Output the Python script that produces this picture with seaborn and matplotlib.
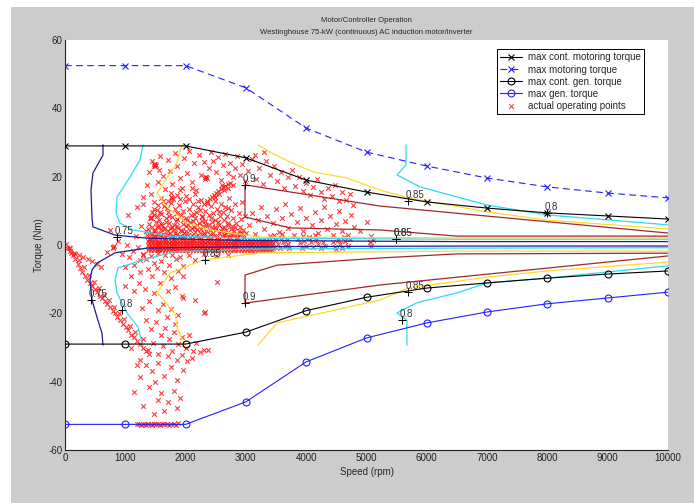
import matplotlib
matplotlib.use("Agg")
import matplotlib.pyplot as plt
import seaborn as sns
from matplotlib.patches import Rectangle

sns.set_style("white")
plt.rcParams['font.family'] = ['Liberation Sans', 'DejaVu Sans']
plt.rcParams['axes.unicode_minus'] = False

# ---------------- data ----------------
speed = [0, 1000, 2000, 3000, 4000, 5000, 6000, 7000, 8000, 9000, 10000]
cont_motor = [29, 29, 29, 25.5, 19.0, 15.5, 12.6, 10.8, 9.4, 8.5, 7.6]
peak_motor = [52.5, 52.5, 52.5, 46.0, 34.2, 27.2, 23.1, 19.6, 17.0, 15.2, 13.8]
cont_gen = [-29, -29, -29, -25.5, -19.2, -15.3, -12.6, -11.1, -9.7, -8.5, -7.6]
peak_gen = [-52.5, -52.5, -52.5, -45.9, -34.2, -27.2, -22.8, -19.6, -17.2, -15.5, -13.8]

legend_labels = ["max cont. motoring torque", "max motoring torque",
                 "max cont. gen. torque", "max gen. torque", "actual operating points"]

# efficiency contour lines (speed, torque)
c75_a_s = [630, 630, 464, 431, 448, 464, 829, 1360, 3000, 6500, 10000]
c75_a_t = [29.3, 26.3, 21.1, 16.1, 7.9, 5.3, 2.9, 2.0, 1.3, 1.0, 1.0]
c75_b_s = [630, 613, 530, 448, 415, 448, 530, 829, 1360, 3000, 6500, 10000]
c75_b_t = [-29.3, -25.8, -21.1, -16.1, -10.2, -7.3, -5.3, -2.3, -0.9, -0.5, -0.3, -0.3]
c80_a_s = [1294, 1244, 1078, 862, 846, 912, 1128, 1741, 3000, 6500, 10000]
c80_a_t = [29.3, 24.9, 19.9, 14.0, 9.4, 6.4, 4.4, 2.6, 2.0, 1.7, 1.7]
c80_b_s = [1294, 1277, 1211, 1028, 862, 829, 879, 1294, 1790, 3000, 6500, 10000]
c80_b_t = [-29.3, -28.7, -24.0, -19.9, -14.0, -10.2, -6.7, -4.4, -2.0, -1.2, -0.9, -0.8]
c80_c_s = [5655, 5655, 5506, 5887, 6998, 7993, 10000]
c80_c_t = [29.3, 23.4, 20.5, 17.0, 11.7, 8.8, 5.9]
c80_d_s = [5670, 5670, 5506, 5837, 6501, 6998, 7993, 10000]
c80_d_t = [-29.3, -22.0, -19.9, -16.9, -14.0, -11.1, -9.7, -6.1]
c85_a_s = [1957, 1907, 1857, 1526, 1692, 2023, 2405, 3234, 6500, 10000]
c85_a_t = [29.3, 27.8, 24.0, 15.2, 11.1, 6.4, 4.4, 2.3, 2.1, 2.1]
c85_b_s = [1990, 1857, 1824, 1526, 1741, 2289, 3234, 6500, 10000]
c85_b_t = [-29.3, -24.0, -19.9, -14.0, -8.2, -4.4, -2.3, -1.8, -1.8]
c85_c_s = [3200, 3400, 3731, 4113, 4677, 5224, 5688, 6998, 7993, 10000]
c85_c_t = [29.3, 27.2, 24.3, 21.4, 19.6, 16.1, 13.8, 9.7, 7.3, 4.7]
c85_d_s = [3200, 3516, 5224, 5688, 6998, 7993, 10000]
c85_d_t = [-29.3, -22.8, -16.1, -12.6, -9.4, -7.6, -5.0]
c90_a_s = [10000, 5224, 2985, 2985, 3731, 5224, 6501, 10000]
c90_a_t = [3.5, 11.4, 17.6, 8.2, 5.0, 4.4, 2.6, 2.6]
c90_b_s = [10000, 5224, 2985, 2985, 3516, 5224, 6501, 10000]
c90_b_t = [-3.2, -11.7, -17.0, -8.8, -5.9, -3.8, -2.6, -2.4]

label_speed = [862, 431, 945, 2322, 2985, 2985, 5688, 5489, 5489, 7993, 5688, 5589]
label_torque = [2.3, -16.1, -19.0, -4.4, 17.6, -17.0, 12.9, 1.8, 1.8, 9.4, -13.8, -22.0]
label_text = ["0.75", "0.75", "0.8", "0.85", "0.9", "0.9", "0.85", "0.85", "0.8", "0.8", "0.85", "0.8"]

# operating points
streak_pts = [(20, 0.3), (60, -1.0), (100, -2.2), (130, -3.0), (170, -4.2), (210, -5.5), (250, -6.8),
              (290, -8.0), (330, -9.0), (370, -10.3), (410, -11.2), (450, -12.0), (490, -13.0),
              (530, -13.8), (580, -14.8), (620, -15.6), (660, -16.5), (700, -17.2), (740, -18.0),
              (790, -19.2), (830, -20.0), (870, -21.0), (920, -22.0), (960, -23.0), (1010, -24.0),
              (1050, -25.0), (1100, -26.2), (1140, -27.0), (1190, -28.0), (1240, -29.0), (1290, -30.0),
              (1340, -31.0), (1390, -32.0), (90, -0.8), (160, -2.5), (240, -4.5), (310, -6.5),
              (400, -8.8), (480, -10.8), (560, -12.5), (650, -14.5), (730, -16.0), (820, -18.2),
              (900, -20.0), (980, -21.8), (1070, -23.8), (1160, -25.5), (30, -0.8), (80, -1.8),
              (150, -2.2), (230, -2.8), (300, -3.5), (380, -4.0), (450, -4.6), (530, -5.5), (600, -6.3)]
left_pts = [(740, 4.4), (800, -0.6), (790, -0.9), (810, -0.3), (1045, 8.8), (1030, 0.0), (1210, -0.6),
            (1120, -1.8), (950, -2.5), (1180, 2.6), (880, 1.2), (1060, -3.5), (1250, -4.5),
            (1150, -5.8), (990, -6.5), (1300, -3.0), (700, -2.0), (1340, 4.0), (1260, 5.5),
            (1200, 11.0), (1300, 14.0), (1100, -9.0), (1230, -11.0), (1000, -12.0), (1150, -13.5)]
cloud_pts = [(1360, 2.8), (1380, 4.6), (1400, 6.2), (1420, 3.5), (1430, 7.9), (1410, 7.9), (1420, 8.2),
             (1445, 5.2), (1460, 2.4), (1475, 8.8), (1490, 4.1), (1505, 6.6), (1520, 3.0), (1530, 10.2),
             (1545, 5.6), (1560, 7.4), (1575, 2.6), (1590, 4.8), (1600, 9.1), (1615, 6.0), (1630, 3.3),
             (1645, 11.3), (1660, 5.0), (1670, 7.8), (1685, 2.9), (1700, 4.2), (1710, 9.6), (1725, 6.4),
             (1740, 3.6), (1755, 12.4), (1770, 5.4), (1775, 13.8), (1790, 13.6), (1765, 14.0),
             (1780, 8.2), (1795, 2.5), (1810, 4.5), (1820, 10.6), (1835, 6.9), (1850, 3.1), (1865, 7.5),
             (1880, 5.0), (1890, 11.8), (1905, 2.7), (1920, 8.7), (1935, 4.0), (1950, 6.2), (1960, 9.9),
             (1975, 3.4), (1990, 12.9), (2005, 5.6), (2020, 7.2), (2035, 2.8), (2050, 10.4), (2065, 4.4),
             (2080, 6.6), (2090, 8.9), (2105, 3.0), (2120, 12.0), (2135, 5.2), (2150, 7.8), (2165, 2.5),
             (2180, 9.6), (2195, 4.8), (2210, 11.1), (2225, 6.3), (2240, 3.6), (2255, 13.3), (2270, 8.2),
             (2285, 5.5), (2300, 2.9), (2315, 10.0), (2330, 7.0), (2345, 4.1), (2360, 12.3), (2375, 6.0),
             (2390, 8.8), (2405, 3.2), (2420, 11.4), (2435, 5.3), (2450, 9.4), (2465, 2.7), (2480, 7.4),
             (2495, 13.0), (2510, 4.6), (2525, 10.5), (2540, 6.8), (2555, 3.5), (2570, 8.6), (2585, 12.1),
             (2600, 5.0), (2615, 9.8), (2630, 3.0), (2645, 7.2), (2660, 11.0), (2675, 4.3), (2690, 8.4),
             (2705, 6.0), (2720, 13.8), (2735, 3.3), (2750, 10.1), (2765, 5.6), (2780, 7.9), (2800, 4.0),
             (2820, 11.9), (2840, 6.5), (2860, 3.1), (2880, 9.3), (2900, 5.2), (2920, 7.6), (2940, 12.7),
             (2960, 4.4), (2980, 8.5), (3000, 3.6), (1390, 1.8), (1500, 1.9), (1650, 1.7), (1800, 1.8),
             (1950, 2.0), (2100, 1.8), (2250, 1.9), (2400, 1.7), (2550, 1.9), (2700, 2.0), (2850, 1.8),
             (1550, 11.6), (1700, 13.0), (2000, 14.2), (2150, 14.9), (1850, 14.6), (1620, 12.8),
             (1470, 10.6), (1520, 8.4), (1690, 10.9), (1900, 13.5), (2200, 12.9), (2060, 13.6)]
dense_pts = [(1410, 1.9), (1440, 3.1), (1470, 4.0), (1500, 2.6), (1530, 5.4), (1560, 3.4), (1590, 6.2),
             (1620, 2.2), (1650, 4.6), (1680, 6.8), (1710, 3.0), (1740, 5.0), (1770, 2.4), (1800, 6.0),
             (1830, 3.6), (1860, 5.6), (1890, 2.2), (1920, 4.4), (1950, 7.2), (1980, 2.6), (2010, 4.2),
             (2040, 6.0), (2070, 2.3), (2100, 5.0), (2130, 7.0), (2160, 3.8), (2190, 5.8), (2220, 2.4),
             (2250, 4.6), (2280, 7.0), (2310, 3.4), (2340, 5.8), (2370, 2.2), (2400, 4.4), (2430, 6.6),
             (2460, 3.6), (2490, 5.4), (2520, 2.4), (2550, 6.0), (2580, 4.0), (2610, 2.6), (2640, 5.2),
             (2670, 3.2), (2700, 6.4), (2730, 2.4), (2760, 4.6), (2790, 3.0), (2820, 5.2), (2850, 2.4),
             (2880, 4.2), (2910, 2.8), (2940, 3.6), (2970, 2.2), (1450, 9.6), (1580, 9.8), (1720, 8.6),
             (1860, 9.4), (2000, 8.0), (2140, 9.2), (2280, 8.6), (2420, 8.0), (2560, 9.8), (2700, 10.8),
             (1600, 13.8), (1900, 16.0), (2100, 16.8), (1480, 12.6), (2240, 10.2)]
upper_pts = [(1400, 21.5), (1450, 24.5), (1480, 23.2), (1490, 23.6), (1500, 23.0), (1510, 23.4),
             (1470, 23.8), (1540, 18.5), (1580, 26.0), (1620, 20.2), (1660, 16.5), (1700, 24.8),
             (1740, 21.8), (1780, 18.0), (1820, 26.8), (1860, 23.0), (1900, 19.6), (1940, 16.8),
             (1980, 25.5), (2020, 21.0), (2060, 27.5), (2100, 18.4), (2140, 23.9), (2180, 16.2),
             (2220, 26.3), (2260, 20.6), (2300, 24.2), (2320, 19.4), (2340, 19.8), (2350, 19.5),
             (2330, 20.0), (2380, 22.5), (2420, 27.2), (2460, 24.6), (2500, 21.4), (2540, 25.8),
             (2580, 19.0), (2620, 23.4), (2660, 26.6), (2700, 21.0), (2740, 24.0), (2780, 19.8),
             (2820, 22.6), (2860, 26.0), (2900, 20.4), (2940, 23.6), (2980, 18.6), (3040, 21.8),
             (3100, 25.2), (3160, 19.4), (3220, 22.4), (3280, 17.8), (3340, 24.6), (3400, 20.6),
             (3460, 23.0), (3520, 18.8), (3580, 21.4), (3640, 16.6), (3700, 19.8), (3760, 22.0),
             (3820, 17.4), (3880, 20.0), (3940, 15.8), (4000, 18.2), (4060, 14.6), (4120, 17.0),
             (4180, 19.2), (4240, 15.4), (4300, 13.6), (4360, 16.6), (4420, 14.2), (4480, 17.6),
             (4540, 12.8), (4600, 15.6), (4660, 13.2), (4720, 14.8), (4780, 11.6), (3300, 27.2),
             (3150, 26.4), (1560, 22.0), (1760, 15.2), (1360, 17.5), (1300, 12.0), (1420, 14.8),
             (2300, 12.0), (2350, 12.8), (2400, 13.5), (2430, 14.0), (2470, 14.6), (2500, 15.2),
             (2540, 15.8), (2580, 16.3), (2620, 16.9), (2660, 17.4), (2700, 17.8), (2740, 18.2),
             (2780, 17.6), (2640, 16.0), (2560, 15.0), (2480, 14.0), (2600, 17.5), (2700, 16.6)]
right_pts = [(3050, 5.8), (3100, 9.4), (3150, 3.2), (3200, 7.2), (3250, 11.2), (3300, 4.6), (3350, 8.4),
             (3400, 2.6), (3450, 6.4), (3500, 10.4), (3550, 3.8), (3600, 7.8), (3650, 12.0), (3700, 5.0),
             (3750, 9.2), (3800, 3.0), (3850, 6.8), (3900, 10.8), (3950, 4.2), (4000, 8.0), (4050, 2.4),
             (4100, 6.0), (4150, 9.8), (4200, 3.6), (4250, 7.4), (4300, 11.0), (4350, 4.8), (4400, 8.6),
             (4450, 2.8), (4500, 6.2), (4550, 10.0), (4600, 4.0), (4650, 7.0), (4700, 3.0), (4750, 8.8),
             (4800, 5.4), (4900, 4.0), (5000, 6.6),
             (3470, 2.8), (3500, 1.5), (3530, 0.3), (3560, -0.9), (3590, 2.0), (3620, 0.9), (3650, -0.3),
             (3680, 1.6), (3710, -0.8), (3490, -0.5), (3600, 3.2), (3700, 0.4), (3870, 1.8), (3900, 0.5),
             (3930, -0.8), (3960, 1.2), (4000, -0.2), (4040, 2.1), (4080, 0.8), (4120, -0.6), (4160, 1.5),
             (4200, 0.2), (4240, -0.9), (4280, 1.0), (4320, -0.3), (3950, 2.6), (4150, 2.8), (4440, 0.9),
             (4480, -0.5), (4520, 1.6), (4560, 0.2), (4600, -0.9), (4650, 1.1), (4700, -0.2), (4730, 1.7),
             (4500, -1.3), (4620, 2.4), (5060, 0.8), (5080, -0.4), (5100, 1.5), (5070, 2.6)]
lower_pts = [(1300, -2.6), (1350, -4.0), (1420, -3.2), (1480, -5.2), (1540, -2.4), (1600, -4.6),
             (1660, -3.0), (1720, -5.8), (1780, -2.8), (1840, -4.2), (1900, -3.4), (1960, -6.0),
             (2050, -3.0), (2150, -4.4), (2300, -2.6), (2500, -3.2), (2700, -2.8), (1380, -7.0),
             (1450, -9.2), (1520, -6.6), (1580, -11.0), (1640, -8.0), (1700, -13.6), (1760, -9.8),
             (1820, -12.2), (1880, -7.6), (1940, -15.0), (1960, -9.0), (1960, -15.5), (2150, -16.0),
             (2520, -10.8), (2300, -20.0), (2330, -19.5), (1250, -8.0), (1320, -13.0), (1400, -16.5),
             (1480, -14.0), (1550, -19.0), (1620, -17.4), (1690, -21.0), (1750, -18.6), (1820, -23.2),
             (1880, -20.4), (1280, -18.5), (1350, -22.0), (1430, -24.5), (1510, -22.6), (1590, -26.2),
             (1660, -24.2), (1730, -27.6), (1800, -25.4), (1870, -29.0), (1940, -27.0), (2000, -30.2),
             (2060, -26.4), (2120, -31.0), (2180, -28.6), (2240, -31.4), (2300, -30.6), (2370, -30.8),
             (1300, -27.4), (1380, -30.6), (1460, -28.8), (1540, -31.8), (1620, -29.6), (1700, -32.6),
             (1780, -31.0), (1860, -33.6), (1940, -32.2), (2020, -34.0), (2100, -33.0), (1350, -35.0),
             (1450, -37.0), (1550, -34.4), (1650, -38.2), (1750, -35.6), (1850, -39.6), (1950, -36.6),
             (1250, -38.5), (1400, -41.5), (1500, -40.0), (1600, -43.2), (1700, -46.0), (1800, -42.6),
             (1550, -45.4), (1300, -47.0), (1480, -49.6), (1650, -48.6), (1900, -44.8), (1850, -47.8),
             (1150, -43.0), (1200, -35.0), (1100, -30.0), (1250, -33.6)]
bottom_speed = [1200, 1230, 1260, 1290, 1320, 1350, 1380, 1420, 1450, 1480, 1510, 1540, 1580,
                1610, 1650, 1690, 1720, 1760, 1800, 1840, 1880]
bottom_torque = [-52.5, -52.4, -52.6, -52.5, -52.3, -52.6, -52.5, -52.4, -52.6, -52.5, -52.3,
                 -52.5, -52.6, -52.4, -52.5, -52.3, -52.6, -52.5, -52.4, -52.6, -52.2]
band_speed_a = [1380, 1425, 1470, 1520, 1565, 1610, 1660, 1705, 1750, 1800, 1845, 1890, 1940, 1985,
                2030, 2080, 2125, 2170, 2220, 2265, 2310, 2360, 2405, 2450, 2500, 2545, 2590, 2640,
                2685, 2730, 2780, 2825, 2870, 2920, 2965, 3010, 3060, 3105, 3150, 3200, 3245, 3290,
                3340, 3385, 3430]
band_speed_b = [1395, 1440, 1490, 1535, 1580, 1630, 1675, 1720, 1770, 1815, 1860, 1910, 1955, 2000,
                2050, 2095, 2140, 2190, 2235, 2280, 2330, 2375, 2420, 2470, 2515, 2560, 2610, 2655,
                2700, 2750, 2795, 2840, 2890, 2935, 2980, 3030, 3075, 3120, 3170, 3215, 3260, 3310,
                3355, 3400, 3445]
band_row_torque = [1.3, 0.6, -0.1, -0.8, -1.4]

# ---------------- figure ----------------
W, H = 694, 503
fig = plt.figure(figsize=(W / 100, H / 100), dpi=100, facecolor="white")
fig.patches.append(Rectangle((11 / W, 0), 1, 1 - 7 / H, transform=fig.transFigure,
                             facecolor="#cccccc", edgecolor="none", zorder=-10))
ax = fig.add_axes([65 / W, 53 / H, 603 / W, 410 / H])
ax.set_facecolor("white")

# operating points
all_pts = streak_pts + left_pts + cloud_pts + dense_pts + upper_pts + right_pts + lower_pts
pt_s = [p[0] for p in all_pts] + bottom_speed
pt_t = [p[1] for p in all_pts] + bottom_torque
for i, tq in enumerate(band_row_torque):
    row = band_speed_a if i % 2 == 0 else band_speed_b
    pt_s += row
    pt_t += [tq] * len(row)

col_blue = "#2020ff"
sns.lineplot(x=speed, y=cont_motor, color="black", lw=0.8, marker="x", markersize=4,
             mec="black", mew=0.8, label=legend_labels[0], ax=ax, zorder=4)
sns.lineplot(x=speed, y=peak_motor, color=col_blue, lw=0.8, marker="x", markersize=4,
             mec=col_blue, mew=0.8, dashes=(6, 4), label=legend_labels[1], ax=ax, zorder=4)
sns.lineplot(x=speed, y=cont_gen, color="black", lw=0.8, marker="o", markersize=5,
             mec="black", mfc="none", mew=0.8, label=legend_labels[2], ax=ax, zorder=4)
sns.lineplot(x=speed, y=peak_gen, color=col_blue, lw=0.8, marker="o", markersize=5,
             mec=col_blue, mfc="none", mew=0.8, label=legend_labels[3], ax=ax, zorder=4)
sns.scatterplot(x=pt_s, y=pt_t, marker="x", color="#ff1a1a", s=11, linewidth=0.8, alpha=0.85,
                label=legend_labels[4], ax=ax, zorder=2)

contours = [
    (c75_a_s, c75_a_t, "#1c1c96"), (c75_b_s, c75_b_t, "#1c1c96"),
    (c80_a_s, c80_a_t, "#30d8f0"), (c80_b_s, c80_b_t, "#30d8f0"),
    (c80_c_s, c80_c_t, "#30d8f0"), (c80_d_s, c80_d_t, "#30d8f0"),
    (c85_a_s, c85_a_t, "#ffd830"), (c85_b_s, c85_b_t, "#ffd830"),
    (c85_c_s, c85_c_t, "#ffd830"), (c85_d_s, c85_d_t, "#ffd830"),
    (c90_a_s, c90_a_t, "#a02828"), (c90_b_s, c90_b_t, "#a02828"),
]
for cs, ct, cc in contours:
    sns.lineplot(x=cs, y=ct, sort=False, estimator=None, color=cc, lw=0.9, ax=ax,
                 legend=False, zorder=3)

for xs, ys, tx in zip(label_speed, label_torque, label_text):
    ax.plot([xs], [ys], marker="+", color="black", markersize=6, mew=0.7, zorder=5)
    ax.annotate(tx, (xs, ys), xytext=(-1.5, 0.5), textcoords="offset points",
                fontsize=7, color="#333333", ha="left", va="bottom", zorder=5)

ax.set_xlim(0, 10000)
ax.set_ylim(-60, 60)
ax.set_xticks(range(0, 10001, 1000))
ax.set_yticks(range(-60, 61, 20))
ax.tick_params(direction="in", length=4, width=0.6, labelsize=7, colors="#222222", pad=2)
for side in ["top", "right"]:
    ax.spines[side].set_visible(False)
for side in ["left", "bottom"]:
    ax.spines[side].set_color("#222222")
    ax.spines[side].set_linewidth(0.8)
ax.set_xlabel("Speed (rpm)", fontsize=7, labelpad=3)
ax.set_ylabel("Torque (Nm)", fontsize=7, labelpad=3)

fig.text(366 / W, 1 - 21 / H, "Motor/Controller Operation", ha="center", va="center", fontsize=5.5)
fig.text(366 / W, 1 - 32 / H, "Westinghouse 75-kW (continuous) AC induction motor/inverter",
         ha="center", va="center", fontsize=5.5)

handles, labels = ax.get_legend_handles_labels()
leg = ax.legend(handles, labels, loc="upper right", bbox_to_anchor=(0.960, 0.978),
                fontsize=7, frameon=True, fancybox=False, framealpha=1, edgecolor="black",
                borderaxespad=0, handlelength=2.2, handletextpad=0.6, labelspacing=0.22,
                borderpad=0.35)
leg.get_frame().set_linewidth(0.7)

fig.savefig("out.png", dpi=100, facecolor=fig.get_facecolor())
